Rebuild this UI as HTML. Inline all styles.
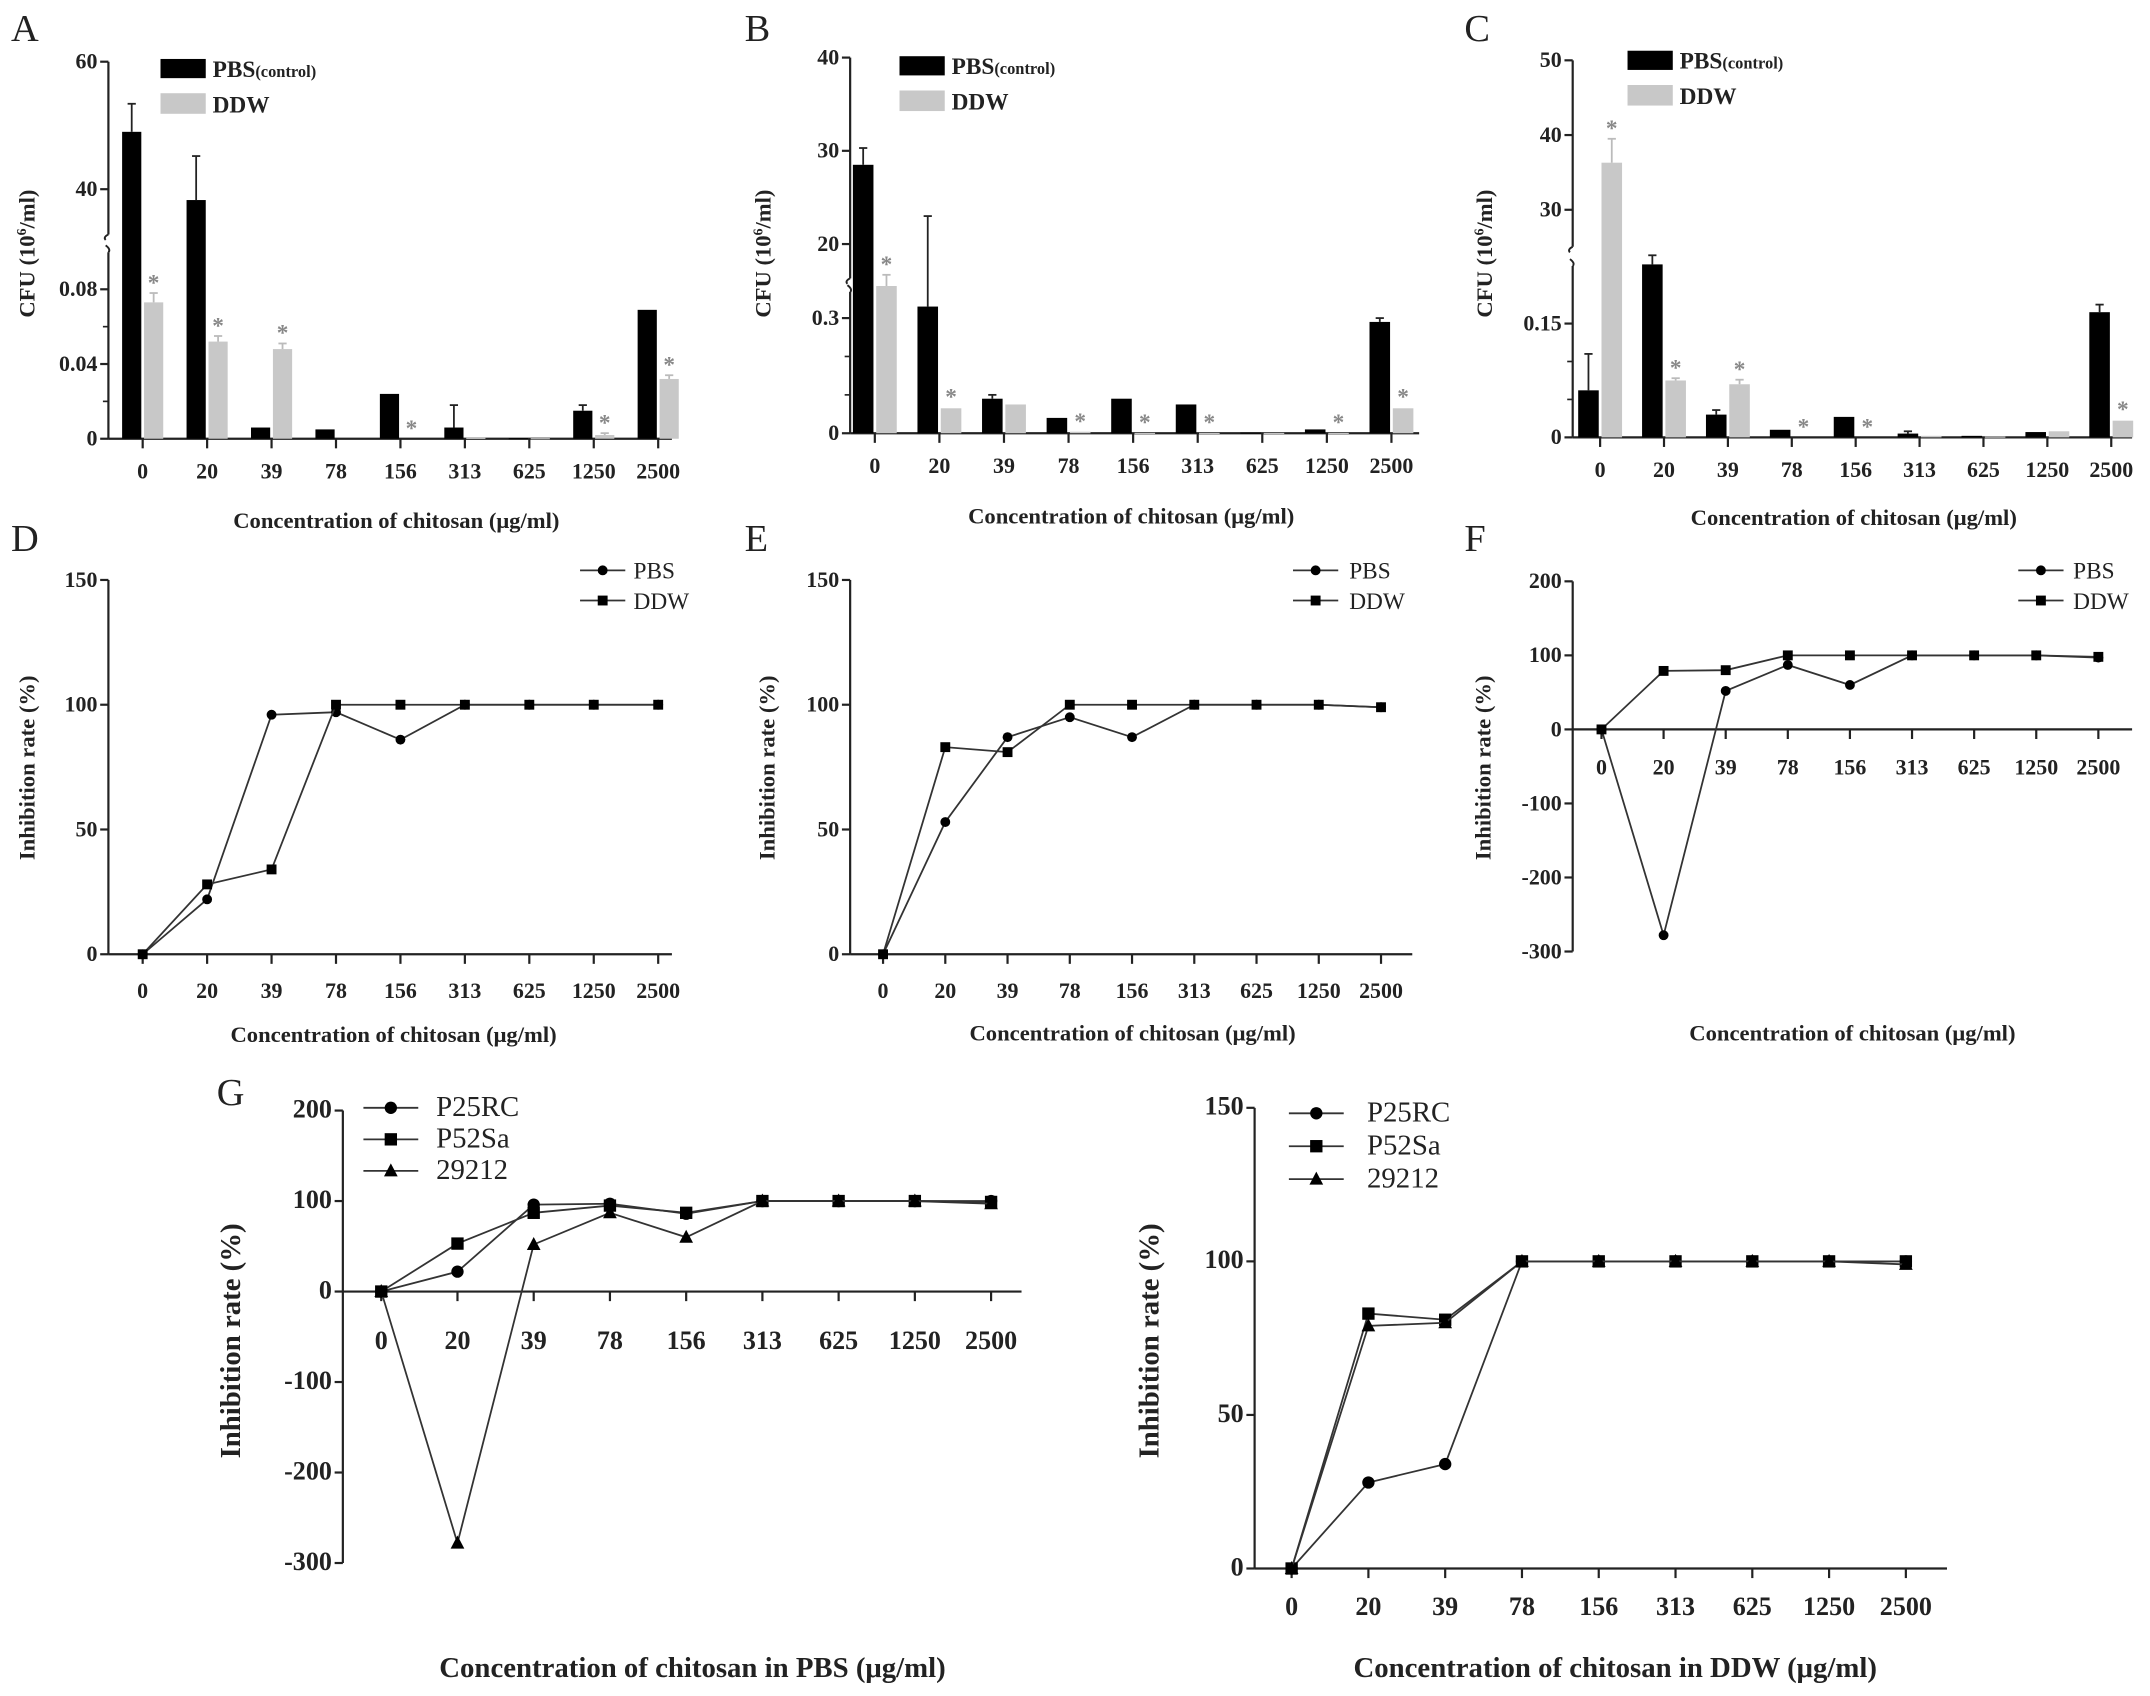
<!DOCTYPE html>
<html><head><meta charset="utf-8">
<style>
html,body{margin:0;padding:0;background:#fff;}
svg{display:block;}
text{font-family:"Liberation Serif",serif;fill:#222;}
</style></head>
<body>
<svg id="fig" width="2150" height="1696" viewBox="0 0 1568 1237" xmlns="http://www.w3.org/2000/svg"></svg>
<script>
// ---------- data ----------
const categories = ["0","20","39","78","156","313","625","1250","2500"];
// Panel A
const aPBS = [49, 38.3, 0.006, 0.005, 0.024, 0.006, 0.0003, 0.015, 0.069];
const aPBSErr = [53.4, 45.2, 0.0065, 0.0055, 0.0245, 0.018, 0.0003, 0.018, 0.069];
const aDDW = [0.073, 0.052, 0.048, 0, 0, 0.0005, 0.0003, 0.002, 0.032];
const aDDWErr = [0.078, 0.055, 0.051, 0, 0, 0.0005, 0.0003, 0.003, 0.034];
const aStars = [1,1,1,0,1,0,0,1,1];
const aTicks = [{v:60,l:"60"},{v:40,l:"40"},{v:0.08,l:"0.08"},{v:0.04,l:"0.04"},{v:0,l:"0"}];
// Panel B
const bPBS = [28.5, 0.33, 0.09, 0.04, 0.09, 0.075, 0.002, 0.01, 0.29];
const bPBSErr = [30.3, 23, 0.1, 0.042, 0.09, 0.078, 0.002, 0.012, 0.3];
const bDDW = [15.5, 0.065, 0.075, 0.004, 0.001, 0.001, 0.001, 0.001, 0.065];
const bDDWErr = [16.7, 0.068, 0.075, 0.004, 0.001, 0.001, 0.001, 0.001, 0.068];
const bStars = [1,1,0,1,1,1,0,1,1];
const bTicks = [{v:40,l:"40"},{v:30,l:"30"},{v:20,l:"20"},{v:0.3,l:"0.3"},{v:0,l:"0"}];
// Panel C
const cPBS = [0.062, 0.228, 0.03, 0.01, 0.027, 0.005, 0.002, 0.007, 0.165];
const cPBSErr = [0.11, 0.24, 0.036, 0.01, 0.027, 0.008, 0.002, 0.007, 0.175];
const cDDW = [36.3, 0.075, 0.07, 0, 0, 0.002, 0.001, 0.008, 0.022];
const cDDWErr = [39.5, 0.078, 0.076, 0, 0, 0.002, 0.001, 0.008, 0.023];
const cStars = [1,1,1,1,1,0,0,0,1];
const cTicks = [{v:50,l:"50"},{v:40,l:"40"},{v:30,l:"30"},{v:0.15,l:"0.15"},{v:0,l:"0"}];
// Panels D/E/F (inhibition %)
const dPBS = [0, 22, 96, 97, 86, 100, 100, 100, 100];
const dDDW = [0, 28, 34, 100, 100, 100, 100, 100, 100];
const ePBS = [0, 53, 87, 95, 87, 100, 100, 100, 99];
const eDDW = [0, 83, 81, 100, 100, 100, 100, 100, 99];
const fPBS = [0, -278, 52, 87, 60, 100, 100, 100, 97];
const fDDW = [0, 79, 80, 100, 100, 100, 100, 100, 98];
const ticks150 = [0, 50, 100, 150];
const ticks200 = [200, 100, 0, -100, -200, -300];
// Panel G
const gPBS_P25RC = [0, 22, 96, 97, 86, 100, 100, 100, 100];
const gPBS_P52Sa = [0, 53, 87, 95, 87, 100, 100, 100, 99];
const gPBS_29212 = [0, -278, 52, 87, 60, 100, 100, 100, 97];
const gDDW_P25RC = [0, 28, 34, 100, 100, 100, 100, 100, 100];
const gDDW_P52Sa = [0, 83, 81, 100, 100, 100, 100, 100, 100];
const gDDW_29212 = [0, 79, 80, 100, 100, 100, 100, 100, 99];

// ---------- helpers ----------
const NS = "http://www.w3.org/2000/svg";
const svg = document.getElementById("fig");
function mk(tag, attrs, parent, txt){
  const e = document.createElementNS(NS, tag);
  for (const k in attrs) e.setAttribute(k, attrs[k]);
  if (txt !== undefined) e.textContent = txt;
  (parent||svg).appendChild(e);
  return e;
}
function line(x1,y1,x2,y2,p,w){ return mk("line",{x1,y1,x2,y2,stroke:"#222","stroke-width":w||1.6},p); }
function grp(name){ const g = mk("g",{});   return g; }

function panelLetter(t,x,y){
  const e = mk("text",{x,y,"font-size":28},svg,t);
  
  
}

function xLabels(g, x0, dx, yAxis, labY, fs){
  categories.forEach((c,i)=>{
    const x = x0 + i*dx;
    line(x,yAxis,x,yAxis+7,g);
    const t = mk("text",{x, y:labY, "text-anchor":"middle","font-size":fs||16,"font-weight":"bold"},g,c);
    
    
  });
}

function xTitle(g,txt,x,y,fs){
  const t = mk("text",{x,y,"text-anchor":"middle","font-size":fs||16.5,"font-weight":"bold"},g,txt);
  
  
}
function yTitle(g,txt,x,y,fs,sup){
  const t = mk("text",{x:0,y:0,"text-anchor":"middle","font-size":fs||16.5,"font-weight":"bold",transform:`translate(${x},${y}) rotate(-90)`},g);
  
  
  if (sup){
    mk("tspan",{},t,"CFU (10");
    mk("tspan",{dy:-6,"font-size":10},t,"6");
    mk("tspan",{dy:6},t,"/ml)");
  } else t.textContent = txt;
}

// ---------- bar panels ----------
function barPanel(cfg){
  const g = grp(cfg.name);
  const {ax, axEnd, x0, dx, lo, up, cut, brk} = cfg;
  const y = v => v > cut ? up.y0 + (v-up.v0)*(up.y1-up.y0)/(up.v1-up.v0)
                          : lo.y0 + (v-lo.v0)*(lo.y1-lo.y0)/(lo.v1-lo.v0);
  const base = y(0);
  line(ax, cfg.top, ax, brk[0], g);
  line(ax, brk[1], ax, base, g);
  mk("path",{d:`M${ax} ${brk[0]} q-4 2 -2 4 M${ax} ${brk[1]} q2 -2 -2 -5`,stroke:"#222",fill:"none","stroke-width":1.4},g);
  line(ax, base, axEnd, base, g);
  cfg.ticks.forEach(t=>{
    const yy = y(t.v);
    line(ax-6, yy, ax, yy, g);
    const e = mk("text",{x:ax-8,y:yy+5,"text-anchor":"end","font-size":16,"font-weight":"bold"},g,t.l);
    
    
  });
  (cfg.minor||[]).forEach(v=>{ const yy=y(v); line(ax-4,yy,ax,yy,g,1.2); });
  categories.forEach((c,i)=>{
    const cx = x0 + i*dx;
    const bw = cfg.bw;
    const vb = cfg.pbs[i], vg = cfg.ddw[i];
    const yb = y(vb), yg = y(vg);
    if (vb > 0){
      const r = mk("rect",{x:cx-bw-1, y:yb, width:bw, height:Math.max(base-yb,0.8), fill:"#000"},g);
      
      
      const ye = y(cfg.pbsErr[i]);
      if (ye < yb-1){ line(cx-1-bw/2, yb, cx-1-bw/2, ye, g, 1.3); line(cx-1-bw/2-3, ye, cx-1-bw/2+3, ye, g, 1.3); }
    }
    if (vg > 0){
      const r = mk("rect",{x:cx+1, y:yg, width:bw, height:Math.max(base-yg,0.8), fill:"#c8c8c8"},g);
      
      
      const ye = y(cfg.ddwErr[i]);
      if (ye < yg-1){ mk("line",{x1:cx+1+bw/2,y1:yg,x2:cx+1+bw/2,y2:ye,stroke:"#bbb","stroke-width":1.3},g); mk("line",{x1:cx+1+bw/2-3,y1:ye,x2:cx+1+bw/2+3,y2:ye,stroke:"#bbb","stroke-width":1.3},g); }
    }
    if (cfg.stars[i]){
      const ys = Math.min(y(cfg.ddwErr[i]), base) - 8;
      const s = mk("text",{x:cx+1+bw/2, y:ys+6, "text-anchor":"middle","font-size":17,"font-weight":"bold",style:"fill:#888"},g,"*");
      
      
    }
  });
  xLabels(g, x0, dx, base, base+29);
  const L = cfg.leg;
  const lg = mk("g",{},g);
  
  
  mk("rect",{x:L.x,y:L.y,width:33,height:14,fill:"#000"},lg);
  const t1 = mk("text",{x:L.x+38,y:L.y+13,"font-size":17,"font-weight":"bold"},lg);
  mk("tspan",{},t1,"PBS");
  mk("tspan",{"font-size":12},t1,"(control)");
  mk("rect",{x:L.x,y:L.y+25,width:33,height:15,fill:"#c8c8c8"},lg);
  mk("text",{x:L.x+38,y:L.y+39,"font-size":17,"font-weight":"bold"},lg,"DDW");
  xTitle(g, "Concentration of chitosan (μg/ml)", cfg.xt[0], cfg.xt[1]);
  yTitle(g, "", cfg.yt[0], cfg.yt[1], 16.5, true);
}

barPanel({name:"panel-a-bar-chart", ax:79, axEnd:490, top:45, x0:104, dx:47, bw:14, cut:1,
  lo:{v0:0,y0:320,v1:0.08,y1:211}, up:{v0:40,y0:138,v1:60,y1:45}, brk:[171,184],
  pbs:aPBS, pbsErr:aPBSErr, ddw:aDDW, ddwErr:aDDWErr, stars:aStars, ticks:aTicks, minor:[0.02,0.06],
  leg:{x:117,y:43}, xt:[289,385], yt:[25,185]});
barPanel({name:"panel-b-bar-chart", ax:620, axEnd:1035, top:42, x0:638, dx:47.1, bw:15, cut:1,
  lo:{v0:0,y0:316,v1:0.3,y1:232}, up:{v0:20,y0:178,v1:40,y1:42}, brk:[203,213],
  pbs:bPBS, pbsErr:bPBSErr, ddw:bDDW, ddwErr:bDDWErr, stars:bStars, ticks:bTicks, minor:[0.1,0.2],
  leg:{x:656,y:41}, xt:[825,382], yt:[562,185]});
barPanel({name:"panel-c-bar-chart", ax:1147, axEnd:1555, top:44, x0:1167, dx:46.6, bw:15, cut:1,
  lo:{v0:0,y0:319,v1:0.15,y1:236}, up:{v0:30,y0:153,v1:50,y1:44}, brk:[180,194],
  pbs:cPBS, pbsErr:cPBSErr, ddw:cDDW, ddwErr:cDDWErr, stars:cStars, ticks:cTicks, minor:[0.05,0.1],
  leg:{x:1187,y:37}, xt:[1352,383], yt:[1088,185]});

// ---------- line panels ----------
function marker(g, type, x, y, s){
  if (type==="circle") mk("circle",{cx:x,cy:y,r:s*0.45,fill:"#000"},g);
  else if (type==="square") mk("rect",{x:x-s*0.45,y:y-s*0.45,width:s*0.9,height:s*0.9,fill:"#000"},g);
  else mk("path",{d:`M${x} ${y-s*0.55} L${x+s*0.5} ${y+s*0.4} L${x-s*0.5} ${y+s*0.4} Z`,fill:"#000"},g);
}
function linePanel(cfg){
  const g = grp(cfg.name);
  const {ax, axEnd, x0, dx} = cfg;
  const y = v => cfg.y0px + (v - 0) * (cfg.y1px - cfg.y0px) / (cfg.v1 - 0);
  const yTop = y(cfg.vmax), yBot = y(cfg.vmin);
  line(ax, yTop, ax, yBot, g);
  line(ax, y(0), axEnd, y(0), g);
  cfg.ticks.forEach(v=>{
    const yy = y(v);
    line(ax-6,yy,ax,yy,g);
    const e = mk("text",{x:ax-8,y:yy+5,"text-anchor":"end","font-size":cfg.fs,"font-weight":"bold"},g,String(v));
    
    
  });
  xLabels(g, x0, dx, y(0), y(0)+cfg.labOff, cfg.fs);
  cfg.series.forEach((s)=>{
    const sg = mk("g",{},g);
    
    
    const pts = s.data.map((v,i)=>`${x0+i*dx},${y(v)}`).join(" ");
    mk("polyline",{points:pts,fill:"none",stroke:"#333","stroke-width":1.3},sg);
    s.data.forEach((v,i)=>marker(sg, s.m, x0+i*dx, y(v), cfg.ms));
  });
  const lg = mk("g",{},g);
  
  
  cfg.series.forEach((s,i)=>{
    const ly = cfg.leg.y + i*cfg.leg.dy;
    mk("line",{x1:cfg.leg.x,y1:ly,x2:cfg.leg.x+cfg.leg.w,y2:ly,stroke:"#333","stroke-width":1.3},lg);
    marker(lg, s.m, cfg.leg.x+cfg.leg.w/2, ly, cfg.ms);
    mk("text",{x:cfg.leg.tx,y:ly+6,"font-size":cfg.leg.fs},lg,s.label);
  });
  xTitle(g, cfg.xtitle, cfg.xt[0], cfg.xt[1], cfg.tfs);
  yTitle(g, "Inhibition rate (%)", cfg.yt[0], cfg.yt[1], cfg.tfs);
}

const pbsDdw = (p,d)=>[{label:"PBS",m:"circle",data:p},{label:"DDW",m:"square",data:d}];
linePanel({name:"panel-d-line-chart", ax:79, axEnd:490, x0:104, dx:47, y0px:696, y1px:514, v1:100, vmax:150, vmin:0,
  ticks:ticks150, fs:16, labOff:32, ms:8, series:pbsDdw(dPBS,dDDW),
  leg:{x:423,w:33,y:416,dy:22,tx:462,fs:17}, xtitle:"Concentration of chitosan (μg/ml)", xt:[287,760], yt:[25,560], tfs:16.5});
linePanel({name:"panel-e-line-chart", ax:620, axEnd:1030, x0:644, dx:45.4, y0px:696, y1px:514, v1:100, vmax:150, vmin:0,
  ticks:ticks150, fs:16, labOff:32, ms:8, series:pbsDdw(ePBS,eDDW),
  leg:{x:943,w:33,y:416,dy:22,tx:984,fs:17}, xtitle:"Concentration of chitosan (μg/ml)", xt:[826,759], yt:[565,560], tfs:16.5});
linePanel({name:"panel-f-line-chart", ax:1147, axEnd:1555, x0:1168, dx:45.3, y0px:532, y1px:478, v1:100, vmax:200, vmin:-300,
  ticks:ticks200, fs:16, labOff:33, ms:8, series:pbsDdw(fPBS,fDDW),
  leg:{x:1472,w:33,y:416,dy:22,tx:1512,fs:17}, xtitle:"Concentration of chitosan (μg/ml)", xt:[1351,759], yt:[1087,560], tfs:16.5});
linePanel({name:"panel-g-pbs-line-chart", ax:250, axEnd:745, x0:278, dx:55.6, y0px:942, y1px:876, v1:100, vmax:200, vmin:-300,
  ticks:ticks200, fs:19, labOff:42, ms:10,
  series:[{label:"P25RC",m:"circle",data:gPBS_P25RC},{label:"P52Sa",m:"square",data:gPBS_P52Sa},{label:"29212",m:"triangle",data:gPBS_29212}],
  leg:{x:265,w:40,y:808,dy:23,tx:318,fs:21}, xtitle:"Concentration of chitosan in PBS (μg/ml)", xt:[505,1223], yt:[175,978], tfs:21});
linePanel({name:"panel-g-ddw-line-chart", ax:915, axEnd:1420, x0:942, dx:56, y0px:1144, y1px:920, v1:100, vmax:150, vmin:0,
  ticks:ticks150, fs:19, labOff:34, ms:10,
  series:[{label:"P25RC",m:"circle",data:gDDW_P25RC},{label:"P52Sa",m:"square",data:gDDW_P52Sa},{label:"29212",m:"triangle",data:gDDW_29212}],
  leg:{x:940,w:40,y:812,dy:24,tx:997,fs:21}, xtitle:"Concentration of chitosan in DDW (μg/ml)", xt:[1178,1223], yt:[845,978], tfs:21});

panelLetter("A",8,30); panelLetter("B",543,30); panelLetter("C",1068,30);
panelLetter("D",8,402); panelLetter("E",543,402); panelLetter("F",1068,402);
panelLetter("G",158,806);
</script>
</body></html>
